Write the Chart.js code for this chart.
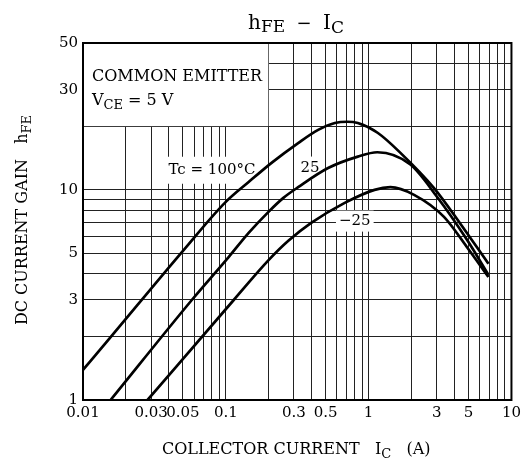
<!DOCTYPE html>
<html>
<head>
<meta charset="utf-8">
<script src="https://cdn.jsdelivr.net/npm/chart.js@4.4.1/dist/chart.umd.min.js"></script>
<style>
  html, body { margin:0; padding:0; background:#fff; }
</style>
</head>
<body>
<canvas id="chart" width="525" height="462"></canvas>
<script>
/* ── data ── */
const IC_100  = [0.01, 0.0154, 0.051, 0.1, 0.1445, 0.209, 0.321, 0.443, 0.58, 0.71, 0.84, 1.155, 1.67, 2.87, 4.35, 6.9];
const HFE_100 = [1.39, 1.97, 5.2, 8.77, 10.9, 13.45, 16.7, 19.3, 20.8, 21.1, 20.8, 18.7, 15.0, 10.2, 6.96, 4.45];

const IC_25   = [0.0156, 0.058, 0.105, 0.1445, 0.199, 0.253, 0.321, 0.52, 0.84, 1.15, 1.96, 3.0, 4.87, 6.9];
const HFE_25  = [1, 3, 4.8, 6.24, 7.86, 9.16, 10.3, 12.7, 14.4, 15.1, 13.2, 9.3, 5.8, 3.94];

const IC_M25  = [0.0283, 0.114, 0.2, 0.274, 0.396, 0.68, 1.1, 1.42, 2.08, 3.37, 4.87, 6.9];
const HFE_M25 = [1, 3, 4.64, 5.72, 6.96, 8.67, 10.0, 10.3, 9.47, 7.44, 5.35, 3.85];

/* grid lines + labelled ticks */
const X_GRID   = [0.01,0.02,0.03,0.04,0.05,0.06,0.07,0.08,0.09,0.1,0.2,0.3,0.4,0.5,0.6,0.7,0.8,0.9,1,2,3,4,5,6,7,8,9,10];
const X_LABELS = [0.01,0.03,0.05,0.1,0.3,0.5,1,3,5,10];
const Y_GRID   = [1,2,3,4,5,6,7,8,9,10,20,30,40,50];
const Y_LABELS = [1,3,5,10,30,50];

const FONT = '"DejaVu Serif", serif';

/* ── helpers ── */
const pts = (xs, ys) => xs.map((v, i) => ({ x: v, y: ys[i] }));

// text run: main text + subscripts
function runWidth(ctx, parts){
  let w = 0;
  parts.forEach(p => { ctx.font = p.f + 'px ' + FONT; w += ctx.measureText(p.t).width; });
  return w;
}
function drawRun(ctx, parts, x, y){
  parts.forEach(p => {
    ctx.font = p.f + 'px ' + FONT;
    ctx.fillText(p.t, x, y + (p.dy || 0));
    x += ctx.measureText(p.t).width;
  });
}
function labelBox(ctx, text, size, cx, cy, padX, padY){
  ctx.font = size + 'px ' + FONT;
  const w = ctx.measureText(text).width;
  ctx.fillStyle = '#fff';
  ctx.fillRect(cx - w/2 - padX, cy - size/2 - padY, w + padX*2, size + padY*2);
  ctx.fillStyle = '#000';
  ctx.textAlign = 'center';
  ctx.textBaseline = 'middle';
  ctx.fillText(text, cx, cy);
  ctx.textAlign = 'left';
  ctx.textBaseline = 'alphabetic';
}

/* ── texts, labels, frame ── */
const sheet = {
  id: 'sheet',
  beforeDatasetsDraw(chart){
    const { ctx, chartArea: a, scales: { x, y } } = chart;
    ctx.save();

    // condition box (top-left corner hides the grid)
    ctx.fillStyle = '#fff';
    const bx = x.getPixelForValue(0.2), by = y.getPixelForValue(20);
    ctx.fillRect(a.left + 1, a.top + 1, bx - a.left - 1.5, by - a.top - 1.5);
    ctx.fillStyle = '#000';
    drawRun(ctx, [{ t:'COMMON EMITTER', f:16 }], a.left + 9, a.top + 38);
    drawRun(ctx, [{ t:'V', f:16 }, { t:'CE', f:13, dy:4 }, { t:' = 5 V', f:16 }], a.left + 9, a.top + 62);

    // curve labels
    labelBox(ctx, 'Tc = 100°C', 15, x.getPixelForValue(0.080), y.getPixelForValue(12.4), 4, 6);
    labelBox(ctx, '25', 15, x.getPixelForValue(0.389), y.getPixelForValue(12.7), 3, 4);
    labelBox(ctx, '\u221225', 15, x.getPixelForValue(0.80), y.getPixelForValue(7.1), 3, 3);
    ctx.restore();
  },
  afterDatasetsDraw(chart){
    const { ctx, chartArea: a } = chart;
    ctx.save();
    ctx.strokeStyle = '#000';
    ctx.lineWidth = 2;
    ctx.strokeRect(a.left, a.top, a.right - a.left, a.bottom - a.top);
    ctx.restore();
  },
  afterDraw(chart){
    const { ctx } = chart;
    ctx.save();
    ctx.fillStyle = '#000';

    // title hFE − IC
    const title = [{ t:'h', f:20 }, { t:'FE', f:17, dy:3 }, { t:'  \u2212  ', f:18 }, { t:'I', f:20 }, { t:'C', f:17, dy:4 }];
    drawRun(ctx, title, 296 - runWidth(ctx, title)/2, 29);

    // x axis title
    const xt = [{ t:'COLLECTOR CURRENT   I', f:16 }, { t:'C', f:13, dy:4 }, { t:'   (A)', f:16 }];
    drawRun(ctx, xt, 162, 454);

    // y axis title (rotated)
    const yt = [{ t:'DC CURRENT GAIN   h', f:16 }, { t:'FE', f:13, dy:4 }];
    ctx.translate(27, 220);
    ctx.rotate(-Math.PI/2);
    drawRun(ctx, yt, -runWidth(ctx, yt)/2, 0);
    ctx.restore();
  }
};

/* ── chart ── */
const line = (xs, ys) => ({
  data: pts(xs, ys),
  borderColor: '#000',
  borderWidth: 2.7,
  pointRadius: 0,
  fill: false,
  cubicInterpolationMode: 'monotone'
});

new Chart(document.getElementById('chart'), {
  type: 'line',
  data: {
    datasets: [
      { label: 'Tc = 100°C', ...line(IC_100, HFE_100) },
      { label: '25',         ...line(IC_25, HFE_25) },
      { label: '-25',        ...line(IC_M25, HFE_M25) }
    ]
  },
  plugins: [sheet],
  options: {
    responsive: false,
    animation: false,
    devicePixelRatio: 1,
    layout: { padding: { left: 0, top: 43, right: 10, bottom: 0 } },
    plugins: { legend: { display: false }, tooltip: { enabled: false }, title: { display: false } },
    scales: {
      x: {
        type: 'logarithmic',
        min: 0.01, max: 10,
        grid: { color: '#222', lineWidth: 1, drawTicks: false },
        border: { display: false },
        afterBuildTicks: s => { s.ticks = X_GRID.map(v => ({ value: v })); },
        afterFit: s => { s.height = 62; },
        ticks: {
          autoSkip: false, maxRotation: 0, minRotation: 0, padding: 4,
          color: '#000', font: { family: FONT, size: 15 },
          callback: v => X_LABELS.includes(v) ? String(v) : ''
        }
      },
      y: {
        type: 'logarithmic',
        min: 1, max: 50,
        grid: { color: '#222', lineWidth: 1, drawTicks: false },
        border: { display: false },
        afterBuildTicks: s => { s.ticks = Y_GRID.map(v => ({ value: v })); },
        afterFit: s => { s.width = 83; },
        ticks: {
          autoSkip: false, padding: 5,
          color: '#000', font: { family: FONT, size: 15 },
          callback: v => Y_LABELS.includes(v) ? String(v) : ''
        }
      }
    }
  }
});
</script>
</body>
</html>
